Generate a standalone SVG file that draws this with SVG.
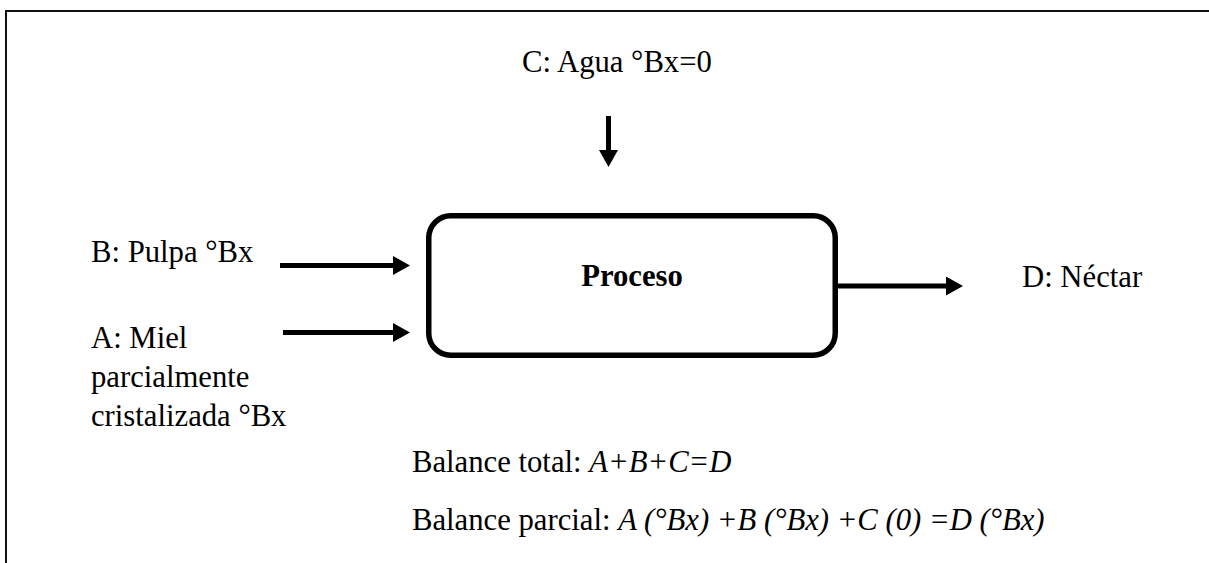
<svg xmlns="http://www.w3.org/2000/svg" width="1209" height="563" viewBox="0 0 1209 563">
  <style>
    text { font-family: "Liberation Serif", "Times New Roman", serif; font-size: 30.7px; fill: #000; }
    .bold { font-weight: bold; }
    .it { font-style: italic; }
    .frame { fill: none; stroke: #111; stroke-width: 2; }
    .box { fill: #fff; stroke: #000; stroke-width: 5.5; }
    .flow { stroke: #000; stroke-width: 5; fill: none; marker-end: url(#head); }
  </style>
  <defs>
    <marker id="head" markerUnits="userSpaceOnUse" markerWidth="17" markerHeight="19" viewBox="0 0 17 19" refX="0" refY="9.5" orient="auto">
      <path d="M0,0 L17,9.5 L0,19 Z" fill="#000"/>
    </marker>
  </defs>
  <rect width="1209" height="563" fill="#fff"/>

  <!-- page frame (top and left edges) -->
  <path class="frame" d="M6,563 V11 H1209"/>

  <!-- flows into and out of the process -->
  <g id="connectors">
    <line class="flow" x1="608.5" y1="116" x2="608.5" y2="150"/>
    <line class="flow" x1="280" y1="265.5" x2="393" y2="265.5"/>
    <line class="flow" x1="283" y1="332.5" x2="393" y2="332.5"/>
    <line class="flow" x1="838" y1="286" x2="946" y2="286"/>
  </g>

  <g id="proceso">
    <rect class="box" x="428.75" y="215.75" width="406.5" height="139.5" rx="22" ry="22"/>
    <text class="bold" x="632" y="286" text-anchor="middle">Proceso</text>
  </g>

  <g id="agua">
    <text x="522" y="72">C: Agua °Bx=0</text>
  </g>

  <g id="pulpa">
    <text x="91" y="262">B: Pulpa °Bx</text>
  </g>

  <g id="miel">
    <text x="91" y="348">A: Miel</text>
    <text x="91" y="387">parcialmente</text>
    <text x="91" y="426">cristalizada °Bx</text>
  </g>

  <g id="nectar">
    <text x="1022" y="287">D: Néctar</text>
  </g>

  <g id="balances">
    <text x="412" y="472">Balance total: <tspan class="it">A+B+C=D</tspan></text>
    <text x="412" y="530">Balance parcial: <tspan class="it">A (°Bx) +B (°Bx) +C (0) =D (°Bx)</tspan></text>
  </g>
</svg>
